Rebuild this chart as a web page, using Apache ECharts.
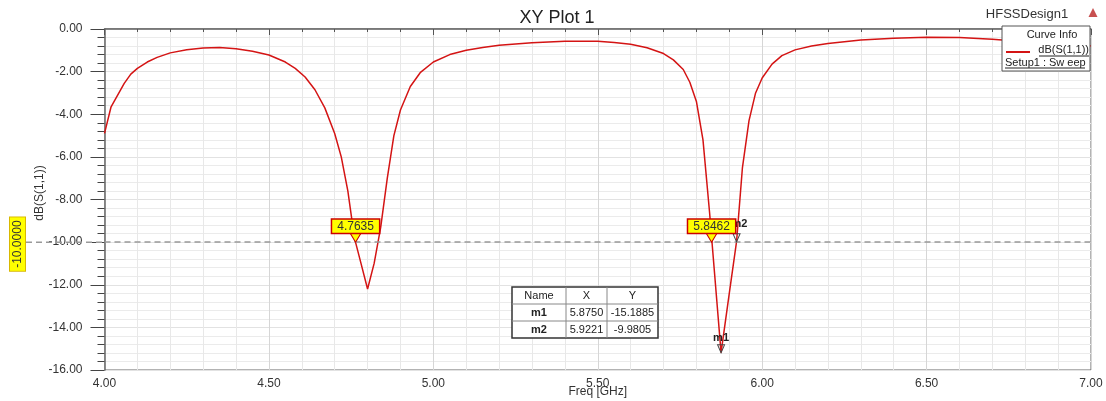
<!DOCTYPE html>
<html>
<head>
<meta charset="utf-8">
<script src="https://cdn.jsdelivr.net/npm/echarts@6/dist/echarts.min.js"></script>
<style>
html,body{margin:0;padding:0;background:#fff;}
#chart{width:1106px;height:401px;}
</style>
</head>
<body>
<div id="chart"></div>
<script>
// ---- data ----
var freq = [4.00,4.02,4.04,4.06,4.08,4.10,4.13,4.16,4.20,4.25,4.30,4.35,4.40,4.45,4.50,4.55,4.58,4.61,4.64,4.67,4.70,4.72,4.74,4.76,4.78,4.80,4.82,4.84,4.86,4.88,4.90,4.93,4.96,5.00,5.05,5.10,5.15,5.20,5.30,5.40,5.50,5.55,5.60,5.65,5.70,5.73,5.76,5.78,5.80,5.82,5.84,5.875,5.90,5.9221,5.94,5.96,5.98,6.00,6.03,6.06,6.10,6.15,6.20,6.30,6.40,6.50,6.60,6.70,6.80,6.90,7.00];
var s11 = [-4.90,-3.65,-3.10,-2.55,-2.12,-1.85,-1.55,-1.33,-1.12,-0.97,-0.89,-0.87,-0.93,-1.04,-1.22,-1.55,-1.85,-2.25,-2.85,-3.70,-4.90,-6.00,-7.60,-9.80,-11.00,-12.20,-11.00,-9.30,-7.00,-5.00,-3.80,-2.70,-2.05,-1.55,-1.20,-1.00,-0.87,-0.76,-0.64,-0.57,-0.58,-0.63,-0.72,-0.88,-1.15,-1.45,-1.90,-2.50,-3.40,-5.20,-8.60,-15.1885,-12.40,-9.9805,-6.50,-4.30,-3.00,-2.30,-1.65,-1.25,-0.98,-0.80,-0.68,-0.52,-0.43,-0.39,-0.40,-0.48,-0.60,-0.72,-0.80];
var markerNames = ['m1','m2'];
var markerX = [5.8750, 5.9221];
var markerY = [-15.1885, -9.9805];
var crossX = [4.7635, 5.8462];
var refLevel = -10;
var xTicks = {min:4, max:7, step:0.5};
var yTicks = {min:-16, max:0, step:2};
var seriesName = 'dB(S(1,1))';
var xName = 'Freq [GHz]';

var FONT = 'Arial, "Liberation Sans", sans-serif';
var chart = echarts.init(document.getElementById('chart'), null, {renderer:'canvas'});

var data = freq.map(function(f,i){return [f, s11[i]];});

var mpData = [];
markerNames.forEach(function(n,i){
  mpData.push({
    coord:[markerX[i], markerY[i]],
    symbol:'path://M0,0 L8,0 L4,8 Z',
    symbolSize:[7,8],
    symbolOffset:[0,-4],
    itemStyle:{color:'rgba(0,0,0,0)', borderColor:'#444', borderWidth:1},
    label:{show:true, formatter:n, fontFamily:FONT, fontSize:11, fontWeight:'bold', color:'#222',
      position: i===0 ? 'top' : [-1,-15], distance:1}
  });
});
crossX.forEach(function(x){
  mpData.push({
    coord:[x, refLevel],
    symbol:'path://M0,0 L12,0 L6,10 Z',
    symbolSize:[12,10],
    symbolOffset:[0,-5],
    itemStyle:{color:'#ffff00', borderColor:'#cc0000', borderWidth:1},
    label:{show:true, formatter:x.toFixed(4), position:'top', distance:-1,
      fontFamily:FONT, fontSize:12, color:'#333',
      backgroundColor:'#ffff00', borderColor:'#cc0000', borderWidth:1.5, padding:[1,5,0,5]}
  });
});

var option = {
  backgroundColor:'#fff',
  animation:false,
  title:{text:'XY Plot 1', left:552, top:4, textAlign:'center',
    textStyle:{fontFamily:FONT, fontSize:18, fontWeight:'normal', color:'#222'}},
  grid:{left:104.5, top:29, right:15, bottom:31, show:true, borderColor:'#666', borderWidth:1, backgroundColor:'#fff',
    containLabel:false, outerBoundsMode:'none'},
  xAxis:{type:'value', min:xTicks.min, max:xTicks.max, interval:xTicks.step,
    axisLine:{show:true, lineStyle:{color:'#666', width:1.5}},
    axisTick:{show:true, length:6, lineStyle:{color:'#555'}},
    minorTick:{show:true, splitNumber:5, length:3, lineStyle:{color:'#555'}},
    axisLabel:{fontFamily:FONT, fontSize:12, color:'#333', margin:8, formatter:function(v){return v.toFixed(2);}},
    splitLine:{show:true, lineStyle:{color:'#d6d6d6', width:1}},
    minorSplitLine:{show:true, lineStyle:{color:'#e8e8e8', width:1}}
  },
  yAxis:{type:'value', min:yTicks.min, max:yTicks.max, interval:yTicks.step,
    axisLine:{show:true, lineStyle:{color:'#666', width:1.5}},
    axisTick:{show:true, length:14, lineStyle:{color:'#444'}},
    minorTick:{show:true, splitNumber:5, length:7, lineStyle:{color:'#444'}},
    axisLabel:{fontFamily:FONT, fontSize:12, color:'#333', margin:22, formatter:function(v){return v.toFixed(2);}},
    splitLine:{show:true, lineStyle:{color:'#e2e2e2', width:1}},
    minorSplitLine:{show:true, lineStyle:{color:'#ebebeb', width:1}}
  },
  series:[{
    type:'line', name:seriesName, data:data, showSymbol:false, symbol:'none',
    lineStyle:{color:'#d41414', width:1.5}, z:3,
    markLine:{silent:true, symbol:'none', label:{show:false},
      lineStyle:{color:'#999', type:[6,4], width:1.5},
      data:[{yAxis:refLevel}]},
    markPoint:{data:mpData}
  }]
};
chart.setOption(option);

var yRef = chart.convertToPixel({yAxisIndex:0}, refLevel);
var xMid = chart.convertToPixel({xAxisIndex:0}, (xTicks.min+xTicks.max)/2);
var g = [];
// axis names
g.push({type:'text', z:100, x:40, y:193, rotation:Math.PI/2,
  style:{text:seriesName, font:'12px '+FONT, fill:'#333', align:'center', verticalAlign:'middle'}});
g.push({type:'text', z:100, x:xMid, y:392,
  style:{text:xName, font:'12px '+FONT, fill:'#333', align:'center', verticalAlign:'middle'}});
// left extension of reference line and its yellow label
g.push({type:'line', z:1, shape:{x1:26, y1:yRef, x2:104, y2:yRef}, style:{stroke:'#999', lineWidth:1.5, lineDash:[6,4]}});
g.push({type:'text', z:100, x:17.5, y:yRef+2, rotation:Math.PI/2,
  style:{text:refLevel.toFixed(4), font:'12px '+FONT, fill:'#333', align:'center', verticalAlign:'middle',
    backgroundColor:'#ffff00', borderColor:'#d8b800', borderWidth:1, padding:[2,3,1,3]}});
// header text
g.push({type:'text', z:100, x:1027, y:14, style:{text:'HFSSDesign1', font:'13px '+FONT, fill:'#333', align:'center', verticalAlign:'middle'}});
g.push({type:'polygon', z:100, shape:{points:[[1093,8],[1088.5,17],[1097.5,17]]}, style:{fill:'#c85050'}});
// curve info box
g.push({type:'rect', z:100, shape:{x:1002, y:26, width:88, height:45}, style:{fill:'#fff', stroke:'#555', lineWidth:1}});
g.push({type:'text', z:101, x:1052, y:34.5, style:{text:'Curve Info', font:'11px '+FONT, fill:'#222', align:'center', verticalAlign:'middle'}});
g.push({type:'line', z:101, shape:{x1:1006, y1:52, x2:1030, y2:52}, style:{stroke:'#d41414', lineWidth:2}});
g.push({type:'text', z:101, x:1089, y:50, style:{text:seriesName, font:'11px '+FONT, fill:'#222', align:'right', verticalAlign:'middle'}});
g.push({type:'line', z:101, shape:{x1:1039, y1:56, x2:1089, y2:56}, style:{stroke:'#222', lineWidth:1}});
g.push({type:'text', z:101, x:1005, y:62.5, style:{text:'Setup1 : Sw eep', font:'11px '+FONT, fill:'#222', align:'left', verticalAlign:'middle'}});
g.push({type:'line', z:101, shape:{x1:1005, y1:68, x2:1085, y2:68}, style:{stroke:'#222', lineWidth:1}});
// marker table
var tX = [512, 566, 607, 658], tY = [287, 304, 321, 338];
g.push({type:'rect', z:100, shape:{x:tX[0], y:tY[0], width:tX[3]-tX[0], height:tY[3]-tY[0]}, style:{fill:'#fff', stroke:'#333', lineWidth:1.5}});
[1,2].forEach(function(i){
  g.push({type:'line', z:101, shape:{x1:tX[i], y1:tY[0], x2:tX[i], y2:tY[3]}, style:{stroke:'#888', lineWidth:1}});
  g.push({type:'line', z:101, shape:{x1:tX[0], y1:tY[i], x2:tX[3], y2:tY[i]}, style:{stroke:'#888', lineWidth:1}});
});
var rows = [['Name','X','Y',false]];
markerNames.forEach(function(n,i){ rows.push([n, markerX[i].toFixed(4), markerY[i].toFixed(4), true]); });
rows.forEach(function(r,ri){
  var cy = (tY[ri]+tY[ri+1])/2;
  for (var c=0;c<3;c++){
    g.push({type:'text', z:102, x:(tX[c]+tX[c+1])/2, y:cy,
      style:{text:r[c], font:((c===0&&r[3])?'bold ':'')+'11px '+FONT, fill:'#222', align:'center', verticalAlign:'middle'}});
  }
});
chart.setOption({graphic:{elements:g}});
</script>
</body>
</html>
